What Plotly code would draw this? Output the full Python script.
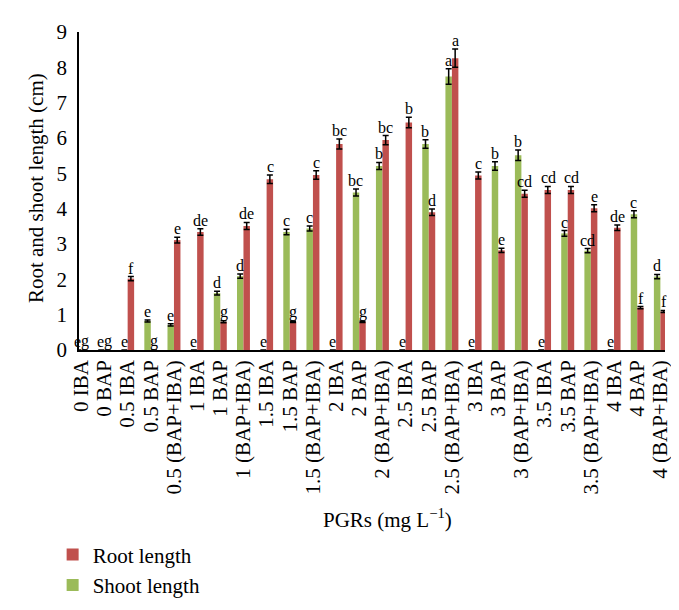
import plotly.graph_objects as go

categories = ["0 IBA", "0 BAP", "0.5 IBA", "0.5 BAP", "0.5 (BAP+IBA)",
              "1 IBA", "1 BAP", "1 (BAP+IBA)", "1.5 IBA", "1.5 BAP", "1.5 (BAP+IBA)",
              "2 IBA", "2 BAP", "2 (BAP+IBA)", "2.5 IBA", "2.5 BAP", "2.5 (BAP+IBA)",
              "3 IBA", "3 BAP", "3 (BAP+IBA)", "3.5 IBA", "3.5 BAP", "3.5 (BAP+IBA)",
              "4 IBA", "4 BAP", "4 (BAP+IBA)"]

shoot_length = [0, 0, 0, 0.82, 0.71, 0, 1.61, 2.09, 0, 3.34, 3.44, 0, 4.46, 5.21,
                0, 5.83, 7.74, 0, 5.21, 5.51, 0, 3.30, 2.81, 0, 3.84, 2.08]
shoot_err = [0, 0, 0, 0.03, 0.03, 0, 0.05, 0.06, 0, 0.08, 0.07, 0, 0.10, 0.10,
             0, 0.12, 0.22, 0, 0.12, 0.15, 0, 0.08, 0.06, 0, 0.10, 0.06]
shoot_letters = ["e", "e", "e", "e", "e", "e", "d", "d", "e", "c", "c", "e", "bc", "b",
                 "e", "b", "a", "e", "b", "b", "e", "c", "cd", "e", "c", "d"]

root_length = [0, 0, 2.02, 0, 3.11, 3.34, 0.80, 3.51, 4.83, 0.80, 4.95, 5.83, 0.80, 5.94,
               6.44, 3.90, 8.26, 4.94, 2.82, 4.42, 4.53, 4.53, 4.01, 3.46, 1.20, 1.09]
root_err = [0, 0, 0.06, 0, 0.08, 0.09, 0.03, 0.10, 0.12, 0.02, 0.12, 0.14, 0.02, 0.13,
            0.15, 0.09, 0.26, 0.10, 0.06, 0.10, 0.10, 0.10, 0.10, 0.08, 0.03, 0.03]
root_letters = ["g", "g", "f", "g", "e", "de", "g", "de", "c", "g", "c", "bc", "g", "bc",
                "b", "d", "a", "c", "e", "cd", "cd", "cd", "e", "de", "f", "f"]

FONT = "Liberation Serif"
RED = "#C0504D"
GREEN = "#9BBB59"

fig = go.Figure()
fig.add_trace(go.Bar(
    x=categories, y=shoot_length, name="Shoot length",
    marker=dict(color=GREEN, line=dict(width=0)),
    error_y=dict(type="data", array=shoot_err, color="black", thickness=1.5, width=3),
))
fig.add_trace(go.Bar(
    x=categories, y=root_length, name="Root length",
    marker=dict(color=RED, line=dict(width=0)),
    error_y=dict(type="data", array=root_err, color="black", thickness=1.5, width=3),
))

annotations = []
for cat, v, e, t in zip(categories, shoot_length, shoot_err, shoot_letters):
    annotations.append(dict(x=cat, y=v + e, text=t, showarrow=False, xanchor="center",
                            yanchor="bottom", xshift=-3.5, yshift=-2,
                            font=dict(family=FONT, size=16, color="black")))
for cat, v, e, t in zip(categories, root_length, root_err, root_letters):
    annotations.append(dict(x=cat, y=v + e, text=t, showarrow=False, xanchor="center",
                            yanchor="bottom", xshift=3.5, yshift=-2,
                            font=dict(family=FONT, size=16, color="black")))

annotations.append(dict(xref="paper", yref="paper", x=0.526, y=-0.53,
                        text="PGRs (mg L<sup>−1</sup>)", showarrow=False,
                        xanchor="center", yanchor="middle",
                        font=dict(family=FONT, size=21, color="black")))
annotations.append(dict(xref="paper", yref="paper", x=-0.073, y=0.51,
                        text="Root and shoot length (cm)", showarrow=False, textangle=-90,
                        xanchor="center", yanchor="middle",
                        font=dict(family=FONT, size=21, color="black")))

fig.update_layout(
    width=679, height=610,
    margin=dict(l=71, r=22, t=21, b=260),
    paper_bgcolor="white", plot_bgcolor="white",
    barmode="group", bargap=0.44, bargroupgap=0,
    font=dict(family=FONT, color="black"),
    showlegend=True,
    legend=dict(x=-0.045, y=-0.58, xanchor="left", yanchor="top",
                traceorder="reversed", orientation="v",
                font=dict(family=FONT, size=21, color="black"),
                itemwidth=30, tracegroupgap=0, bgcolor="rgba(0,0,0,0)"),
    annotations=annotations,
    xaxis=dict(type="category", range=[-0.1, 25.2], tickangle=-90,
               tickmode="array", tickvals=categories, ticktext=categories,
               tickfont=dict(family=FONT, size=21, color="black"),
               showline=True, linecolor="black", linewidth=1.5,
               showgrid=False, ticks="", zeroline=False),
    yaxis=dict(range=[0, 9], dtick=1, tickfont=dict(family=FONT, size=21, color="black"),
               showline=True, linecolor="black", linewidth=1.5,
               showgrid=False, ticks="", zeroline=False, ticklabelstandoff=6),
)

fig.write_html("out.html")
